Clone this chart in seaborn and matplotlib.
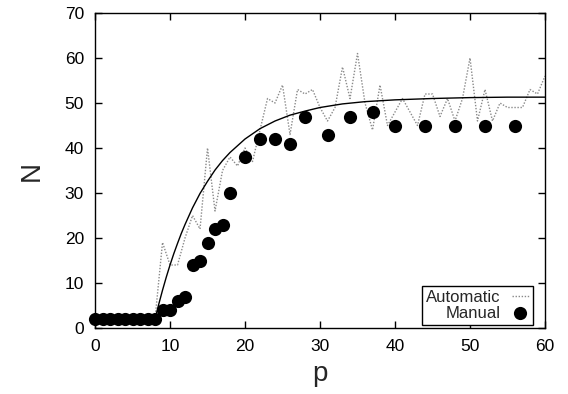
import matplotlib
matplotlib.use('Agg')
import matplotlib.pyplot as plt
import seaborn as sns
import pandas as pd

# ---- data ----
p_auto = list(range(0, 61))
n_auto = [2, 2, 2, 2, 2, 2, 2, 2, 2, 19,
          14, 14, 20, 25, 22, 40, 26, 35, 38, 36,
          40, 37, 44, 51, 50, 54, 43, 53, 52, 53,
          49, 46, 49, 58, 51, 61, 50, 44, 54, 45,
          48, 51, 48, 45, 52, 52, 47, 51, 46, 51,
          60, 46, 53, 46, 50, 49, 49, 49, 53, 52,
          56]

p_manual = [0, 1, 2, 3, 4, 5, 6, 7, 8, 9, 10, 11, 12, 13, 14, 15, 16, 17, 18,
            20, 22, 24, 26, 28, 31, 34, 37, 40, 44, 48, 52, 56]
n_manual = [2, 2, 2, 2, 2, 2, 2, 2, 2, 4, 4, 6, 7, 14, 15, 19, 22, 23, 30,
            38, 42, 42, 41, 47, 43, 47, 48, 45, 45, 45, 45, 45]

# smooth fitted curve
p_fit = [8, 8.5, 9, 9.5, 10, 10.5, 11, 11.5, 12, 13, 14, 15, 16, 17, 18, 20,
         22, 24, 26, 28, 30, 33, 36, 40, 45, 50, 55, 60]
n_fit = [2, 5.3, 8.4, 11.3, 14.0, 16.5, 18.8, 21.0, 23.0, 26.7, 29.9, 32.6,
         35.1, 37.2, 39.0, 42.0, 44.3, 46.0, 47.3, 48.2, 49.0, 49.8, 50.3,
         50.7, 51.0, 51.2, 51.3, 51.3]

auto_df = pd.DataFrame({'p': p_auto, 'N': n_auto})
manual_df = pd.DataFrame({'p': p_manual, 'N': n_manual})
fit_df = pd.DataFrame({'p': p_fit, 'N': n_fit})

sns.set_style('ticks')
plt.rcParams['font.family'] = ['Liberation Sans', 'DejaVu Sans']

fig = plt.figure(figsize=(5.68, 3.94), dpi=100)
ax = fig.add_axes([0.1673, 0.1675, 0.7922, 0.7995])

sns.lineplot(data=auto_df, x='p', y='N', ax=ax, color='#8a8a8a',
             linestyle=(0, (1, 1.2)), linewidth=1.0, label='Automatic',
             estimator=None, sort=False)
sns.lineplot(data=fit_df, x='p', y='N', ax=ax, color='black',
             linewidth=1.0, estimator=None, sort=False, legend=False)
sns.scatterplot(data=manual_df, x='p', y='N', ax=ax, color='black',
                s=90, edgecolor='black', linewidth=0, label='Manual',
                clip_on=False, zorder=5)

ax.set_xlim(0, 60)
ax.set_ylim(0, 70)
ax.set_xticks(range(0, 61, 10))
ax.set_yticks(range(0, 71, 10))
ax.tick_params(direction='in', length=5, width=1, top=True, right=True,
               labelsize=12.5, colors='black', pad=8)
for s in ax.spines.values():
    s.set_linewidth(1.0)
    s.set_color('black')

ax.set_xlabel('p', fontsize=20, labelpad=5)
ax.set_ylabel('N', fontsize=20, labelpad=14)

leg = ax.legend(loc='lower right', markerfirst=False, fontsize=12,
                frameon=True, fancybox=False, edgecolor='black',
                framealpha=1, borderpad=0.25, labelspacing=0.05,
                handlelength=1.0, handletextpad=0.7, borderaxespad=0,
                bbox_to_anchor=(0.9733, 0.0095))
leg.get_frame().set_linewidth(1.0)

fig.savefig('out.png', dpi=100)
